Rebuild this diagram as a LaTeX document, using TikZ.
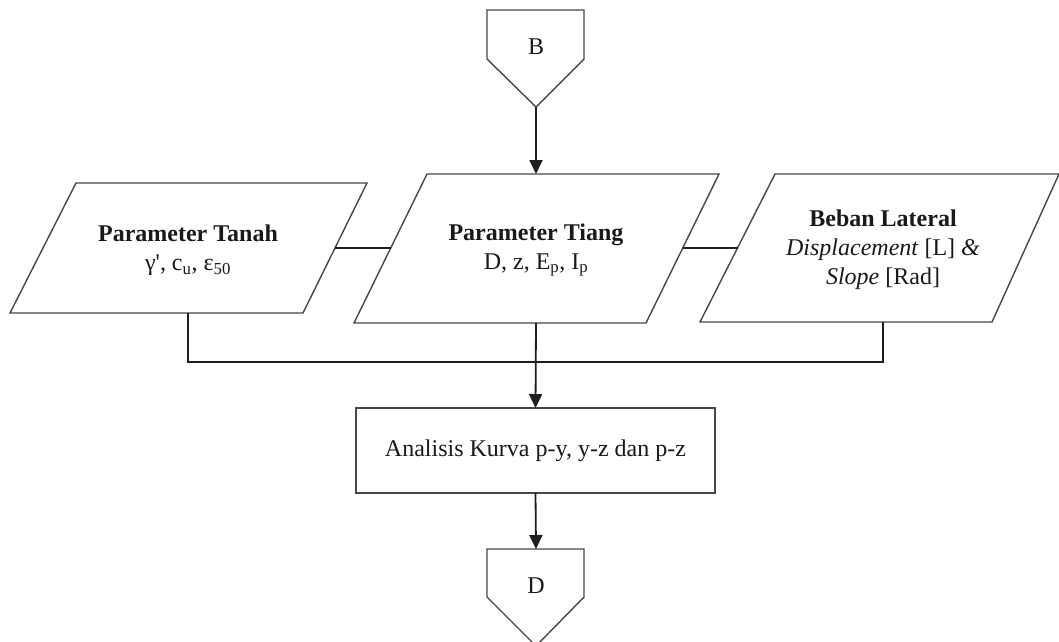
\documentclass[tikz,border=0pt]{standalone}
\usepackage{fontspec}
\setmainfont{Liberation Serif}
\usetikzlibrary{arrows.meta}

\begin{document}
\begin{tikzpicture}[x=1pt,y=-1pt,
  txt/.style={font=\fontsize{24}{29}\selectfont, text=black!90, align=center},
  shapeline/.style={draw=black!72, line width=1.4pt, line join=miter},
  procbox/.style={shapeline, rectangle, inner sep=0pt, outer sep=0pt,
    minimum width=359pt, minimum height=85pt, txt},
  link/.style={draw=black!88, line width=1.8pt},
  flow/.style={link, -{Triangle[width=13pt,length=14pt]}}
]
\useasboundingbox (0,0) rectangle (1059,641);

% off-page connector B
\draw[shapeline] (487,10) -- (584,10) -- (584,59) -- (536,107) -- (487,59) -- cycle;
\node[txt] (B) at (536,47) {B};
\coordinate (Btip) at (536,107);

% input parallelograms
\draw[shapeline] (76,183) -- (367,183) -- (303,313) -- (10,313) -- cycle;
\node[txt] (tanah) at (188,250)
  {\textbf{Parameter Tanah}\\γ\textquotesingle, c\textsubscript{u}, ε\textsubscript{50}};
\coordinate (tanahE) at (335,248);
\coordinate (tanahS) at (188,313);

\draw[shapeline] (427,174) -- (719,174) -- (646,323) -- (354,323) -- cycle;
\node[txt] (tiang) at (536,250)
  {\textbf{Parameter Tiang}\\D, z, E\textsubscript{p}, I\textsubscript{p}};
\coordinate (tiangN) at (536,174);
\coordinate (tiangW) at (391,248);
\coordinate (tiangE) at (683,248);
\coordinate (tiangS) at (536,323);

\draw[shapeline] (775,174) -- (1059,174) -- (992,322) -- (700,322) -- cycle;
\node[txt] (beban) at (883,250)
  {\textbf{Beban Lateral}\\\textit{Displacement} [L] \textit{\&}\\\textit{Slope} [Rad]};
\coordinate (bebanW) at (738,248);
\coordinate (bebanS) at (883,322);

% analysis step
\node[procbox] (kurva) at (535.5,450.5) {Analisis Kurva p-y, y-z dan p-z};

% off-page connector D
\draw[shapeline] (487,549) -- (584,549) -- (584,597) -- (536,646) -- (487,597) -- cycle;
\node[txt] (D) at (536,586) {D};
\coordinate (Dtop) at (536,549);

% connectors
\coordinate (bus) at (536,362);
\draw[flow] (Btip) -- (tiangN);
\draw[link] (tanahE) -- (tiangW);
\draw[link] (tiangE) -- (bebanW);
\draw[link] (tanahS) |- (bus) -| (bebanS);
\draw[flow] (tiangS) -- (kurva.north);
\draw[flow] (kurva.south) -- (Dtop);
\end{tikzpicture}
\end{document}
